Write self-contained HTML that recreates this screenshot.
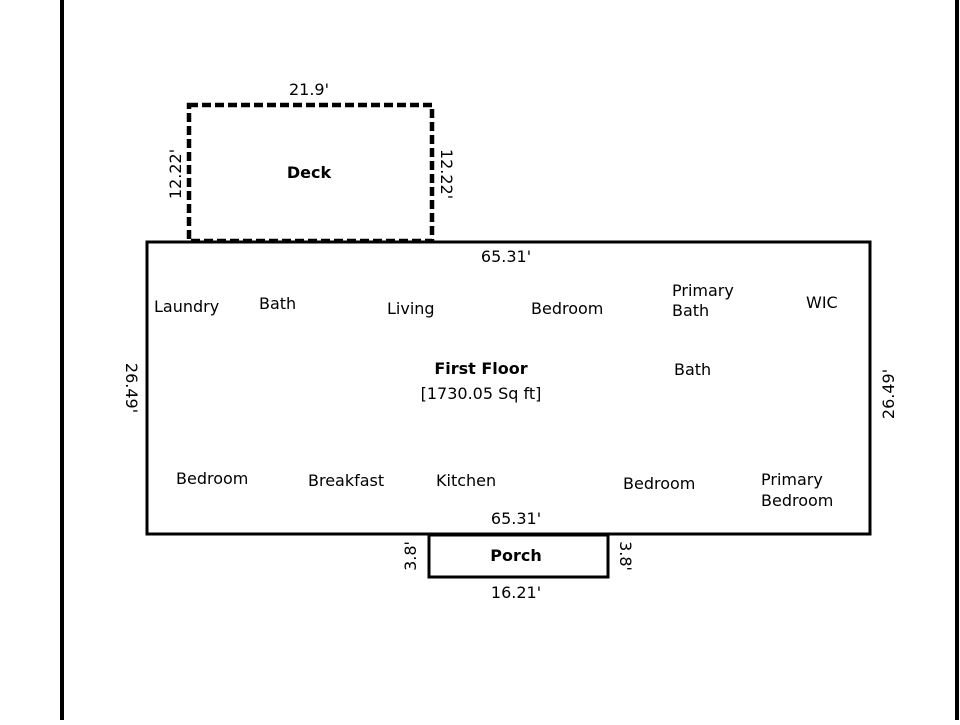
<!DOCTYPE html>
<html><head><style>
html,body{margin:0;padding:0;background:#fff;}
svg text{font-family:"DejaVu Sans","Liberation Sans",sans-serif;font-size:16px;fill:#000;}
</style></head><body>
<svg width="960" height="720" viewBox="0 0 960 720" xmlns="http://www.w3.org/2000/svg">
<rect x="0" y="0" width="960" height="720" fill="#fff"/>
<line x1="62" y1="0" x2="62" y2="720" stroke="#000" stroke-width="4"/>
<line x1="957" y1="0" x2="957" y2="720" stroke="#000" stroke-width="4"/>
<rect x="147" y="242" width="723" height="292" fill="none" stroke="#000" stroke-width="3"/>
<rect x="189" y="105" width="243" height="136" fill="none" stroke="#000" stroke-width="4.5" stroke-dasharray="9,4"/>
<rect x="429" y="535" width="179" height="42" fill="none" stroke="#000" stroke-width="3"/>
<text x="309" y="95" text-anchor="middle">21.9'</text>
<text x="309" y="178" text-anchor="middle" font-weight="bold">Deck</text>
<text transform="translate(181,174) rotate(-90)" text-anchor="middle">12.22'</text>
<text transform="translate(441,174) rotate(90)" text-anchor="middle">12.22'</text>
<text x="506" y="262" text-anchor="middle">65.31'</text>
<text x="154" y="312">Laundry</text>
<text x="259" y="309">Bath</text>
<text x="387" y="314">Living</text>
<text x="531" y="314">Bedroom</text>
<text x="672" y="296">Primary</text>
<text x="672" y="316">Bath</text>
<text x="806" y="308">WIC</text>
<text x="481" y="374" text-anchor="middle" font-weight="bold">First Floor</text>
<text x="481" y="399" text-anchor="middle">[1730.05 Sq ft]</text>
<text x="674" y="375">Bath</text>
<text transform="translate(126,388) rotate(90)" text-anchor="middle">26.49'</text>
<text transform="translate(894,394) rotate(-90)" text-anchor="middle">26.49'</text>
<text x="176" y="484">Bedroom</text>
<text x="308" y="486">Breakfast</text>
<text x="436" y="486">Kitchen</text>
<text x="623" y="489">Bedroom</text>
<text x="761" y="485">Primary</text>
<text x="761" y="506">Bedroom</text>
<text x="516" y="524" text-anchor="middle">65.31'</text>
<text x="516" y="561" text-anchor="middle" font-weight="bold">Porch</text>
<text transform="translate(416,556) rotate(-90)" text-anchor="middle">3.8'</text>
<text transform="translate(620,556) rotate(90)" text-anchor="middle">3.8'</text>
<text x="516" y="598" text-anchor="middle">16.21'</text>
</svg>
</body></html>
